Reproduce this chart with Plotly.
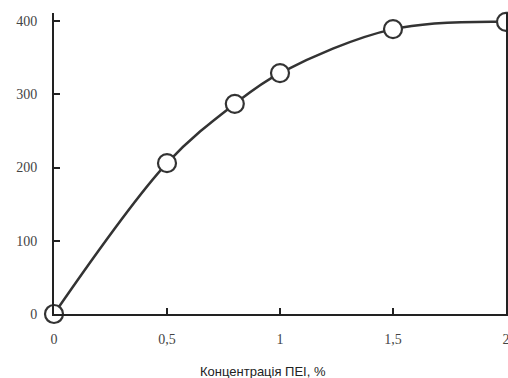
import plotly.graph_objects as go

conc = [0, 0.5, 0.8, 1.0, 1.5, 2.0]
values = [0, 206, 287, 329, 389, 399]
x_tickvals = [0, 0.5, 1, 1.5, 2]
x_ticktext = ["0", "0,5", "1", "1,5", "2"]
y_tickvals = [0, 100, 200, 300, 400]
x_title = "Концентрація ПЕІ, %"

fig = go.Figure()
fig.add_trace(go.Scatter(
    x=conc, y=values, mode="lines+markers",
    line=dict(color="#333333", width=2.5, shape="spline", smoothing=1.0),
    marker=dict(size=18, color="white", line=dict(color="#333333", width=2.2)),
    cliponaxis=False, showlegend=False, hoverinfo="skip",
))

serif = dict(family="Liberation Serif, Times New Roman, serif", size=14, color="#444444")
fig.update_layout(
    width=508, height=378,
    margin=dict(l=54, r=2, t=13, b=64),
    paper_bgcolor="white", plot_bgcolor="white",
    xaxis=dict(
        range=[0, 2], tickvals=x_tickvals, ticktext=x_ticktext,
        showgrid=False, zeroline=False, showline=True, linecolor="#222222", linewidth=2,
        ticks="inside", ticklen=6, tickwidth=2, tickcolor="#222222",
        tickfont=serif, ticklabelstandoff=11, ticklabeloverflow="allow",
        automargin=False,
    ),
    yaxis=dict(
        range=[0, 411], tickvals=y_tickvals,
        showgrid=False, zeroline=False, showline=True, linecolor="#222222", linewidth=2,
        mirror=True, automargin=False,
        ticks="inside", ticklen=6, tickwidth=2, tickcolor="#222222",
        tickfont=serif, ticklabelstandoff=12,
    ),
    annotations=[dict(
        text=x_title, xref="paper", yref="paper", x=0.462, y=0,
        xanchor="center", yanchor="middle", yshift=-57, showarrow=False,
        font=dict(family="Liberation Sans, Arial, sans-serif", size=13, color="#222222"),
    )],
)
fig.write_html(
    "out.html",
    config={"displayModeBar": False},
    post_script="document.body.style.margin='0';document.body.style.overflow='hidden';",
)
